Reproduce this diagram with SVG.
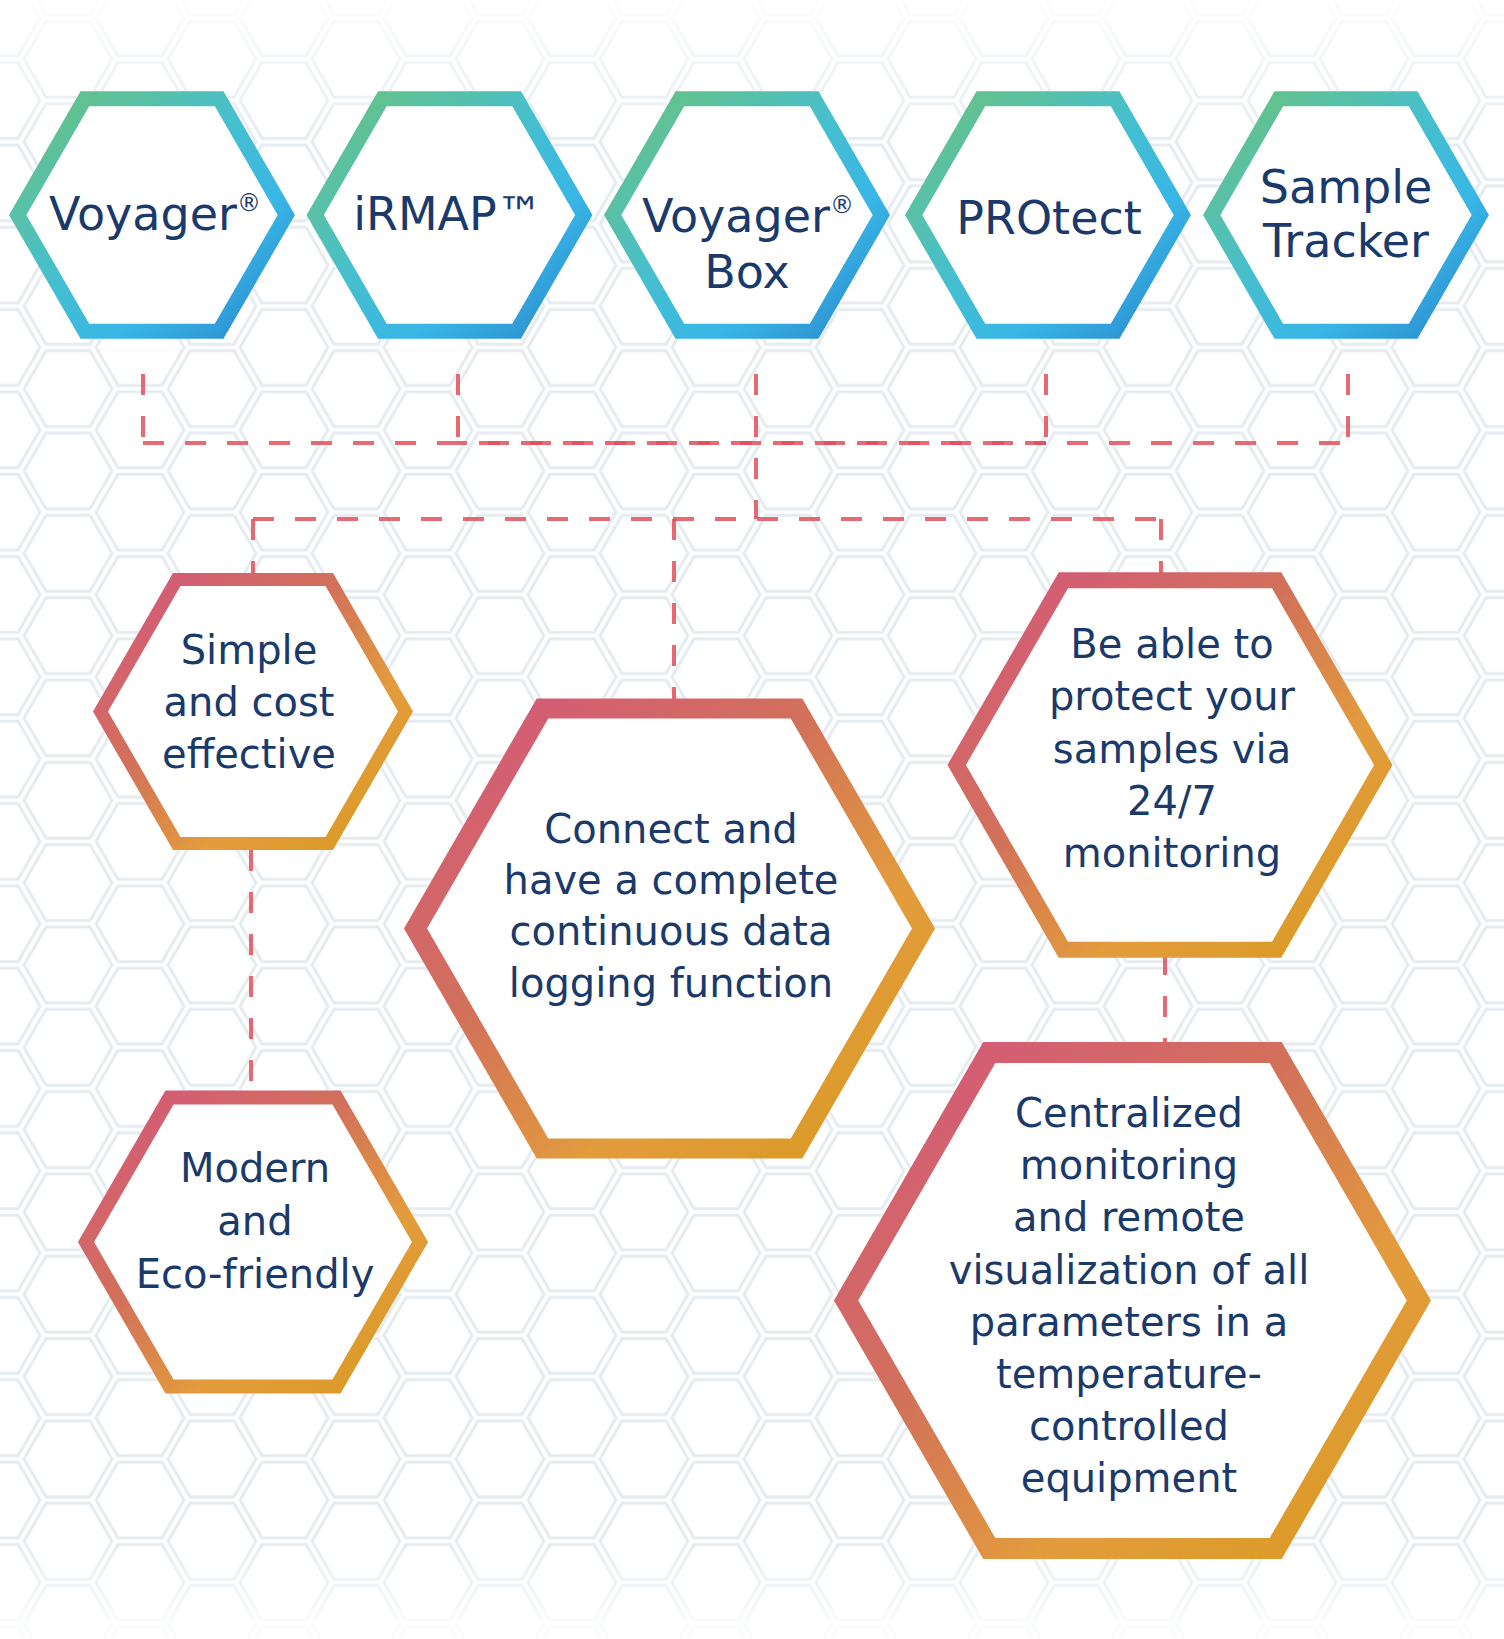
<svg xmlns="http://www.w3.org/2000/svg" xmlns:xlink="http://www.w3.org/1999/xlink" width="1504" height="1639" viewBox="0 0 1504 1639">
  <style>
    .lbl { font-family: 'DejaVu Sans', 'Open Sans', 'Noto Sans', sans-serif; fill: #1b3a6c; text-anchor: middle; }
    .top { font-size: 46px; }
    .bot { font-size: 40px; }
    .hexB { fill: #ffffff; stroke: url(#gBlue); stroke-width: 15; stroke-linejoin: miter; }
    .hexW { fill: #ffffff; stroke: url(#gWarm); stroke-linejoin: miter; }
    .conn { fill: none; stroke: #e0505c; stroke-opacity: 0.85; stroke-width: 4; stroke-dasharray: 21 21; }
    .bgHex { fill: none; stroke: #e5ecf1; stroke-width: 3; }
  </style>
  <defs>
    <linearGradient id="gBlue" x1="0" y1="0" x2="1" y2="1">
      <stop offset="0" stop-color="#6cc27a"/>
      <stop offset="0.45" stop-color="#46bfcf"/>
      <stop offset="0.7" stop-color="#38b6e6"/>
      <stop offset="1" stop-color="#2a86cc"/>
    </linearGradient>
    <linearGradient id="gWarm" x1="0" y1="0" x2="1" y2="1">
      <stop offset="0" stop-color="#d4557f"/>
      <stop offset="0.4" stop-color="#d2715a"/>
      <stop offset="0.68" stop-color="#e39c3c"/>
      <stop offset="1" stop-color="#d89a20"/>
    </linearGradient>
    <path id="bh" d="M44 0 L22 38 L-22 38 L-44 0 L-22 -38 L22 -38 Z"/>
    <pattern id="honey" patternUnits="userSpaceOnUse" x="68" y="59.3" width="144" height="82.33">
      <use xlink:href="#bh" class="bgHex" transform="translate(0 0)"/>
      <use xlink:href="#bh" class="bgHex" transform="translate(144 0)"/>
      <use xlink:href="#bh" class="bgHex" transform="translate(0 82.33)"/>
      <use xlink:href="#bh" class="bgHex" transform="translate(144 82.33)"/>
      <use xlink:href="#bh" class="bgHex" transform="translate(72 41.17)"/>
    </pattern>
    <linearGradient id="fadeTop" x1="0" y1="0" x2="0" y2="1">
      <stop offset="0" stop-color="#ffffff" stop-opacity="0.9"/>
      <stop offset="1" stop-color="#ffffff" stop-opacity="0"/>
    </linearGradient>
    <linearGradient id="fadeBot" x1="0" y1="0" x2="0" y2="1">
      <stop offset="0" stop-color="#ffffff" stop-opacity="0"/>
      <stop offset="1" stop-color="#ffffff" stop-opacity="0.9"/>
    </linearGradient>
  </defs>

  <rect x="0" y="0" width="1504" height="1639" fill="#ffffff"/>
  <rect x="0" y="0" width="1504" height="1639" fill="url(#honey)"/>
  <rect x="0" y="0" width="1504" height="140" fill="url(#fadeTop)"/>
  <rect x="0" y="1540" width="1504" height="99" fill="url(#fadeBot)"/>

  <g id="connectors">
    <path class="conn" d="M143 374 V443"/>
    <path class="conn" d="M458 374 V443"/>
    <path class="conn" d="M1046 374 V443"/>
    <path class="conn" d="M1348 374 V443"/>
    <path class="conn" d="M756 374 V519"/>
    <path class="conn" d="M143 443 H1348"/>
    <path class="conn" d="M458 443 H1046" stroke-dashoffset="12"/>
    <path class="conn" d="M253 519 H1161"/>
    <path class="conn" d="M253 519 V573"/>
    <path class="conn" d="M674 519 V700"/>
    <path class="conn" d="M1161 519 V573"/>
    <path class="conn" d="M251 850 V1092"/>
    <path class="conn" d="M1165 954 V1044"/>
  </g>

  <g id="node-voyager">
    <polygon class="hexB" points="17.7,215 84.85,98.7 219.15,98.7 286.3,215 219.15,331.3 84.85,331.3"/>
    <text class="lbl top" x="155" y="230">Voyager<tspan font-size="24" dy="-19">®</tspan></text>
  </g>
  <g id="node-irmap">
    <polygon class="hexB" points="315.2,215 382.35,98.7 516.65,98.7 583.8,215 516.65,331.3 382.35,331.3"/>
    <text class="lbl top" x="448" y="230">iRMAP™</text>
  </g>
  <g id="node-voyager-box">
    <polygon class="hexB" points="612.7,215 679.85,98.7 814.15,98.7 881.3,215 814.15,331.3 679.85,331.3"/>
    <text class="lbl top" x="748" y="232">Voyager<tspan font-size="24" dy="-19">®</tspan></text>
    <text class="lbl top" x="747" y="288">Box</text>
  </g>
  <g id="node-protect">
    <polygon class="hexB" points="913.7,215 980.85,98.7 1115.15,98.7 1182.3,215 1115.15,331.3 980.85,331.3"/>
    <text class="lbl top" x="1049" y="234">PROtect</text>
  </g>
  <g id="node-sample-tracker">
    <polygon class="hexB" points="1211.7,215 1278.85,98.7 1413.15,98.7 1480.3,215 1413.15,331.3 1278.85,331.3"/>
    <text class="lbl top" x="1346" y="203">Sample</text>
    <text class="lbl top" x="1346" y="257">Tracker</text>
  </g>

  <g id="node-simple">
    <polygon class="hexW" stroke-width="13" points="100.5,711.5 176.75,579.4 329.25,579.4 405.5,711.5 329.25,843.6 176.75,843.6"/>
    <text class="lbl bot" x="249" y="664">Simple</text>
    <text class="lbl bot" x="249" y="716">and cost</text>
    <text class="lbl bot" x="249" y="768">effective</text>
  </g>
  <g id="node-modern">
    <polygon class="hexW" stroke-width="14" points="86,1242 169.5,1097.4 336.5,1097.4 420,1242 336.5,1386.6 169.5,1386.6"/>
    <text class="lbl bot" x="255" y="1182">Modern</text>
    <text class="lbl bot" x="255" y="1235">and</text>
    <text class="lbl bot" x="255" y="1288">Eco-friendly</text>
  </g>
  <g id="node-connect">
    <polygon class="hexW" stroke-width="20" points="415.5,928.5 542.5,708.5 796.5,708.5 923.5,928.5 796.5,1148.5 542.5,1148.5"/>
    <text class="lbl bot" x="671" y="843">Connect and</text>
    <text class="lbl bot" x="671" y="894">have a complete</text>
    <text class="lbl bot" x="671" y="945">continuous data</text>
    <text class="lbl bot" x="671" y="997">logging function</text>
  </g>
  <g id="node-protect-samples">
    <polygon class="hexW" stroke-width="16" points="956.7,765 1063.35,580.3 1276.65,580.3 1383.3,765 1276.65,949.7 1063.35,949.7"/>
    <text class="lbl bot" x="1172" y="658">Be able to</text>
    <text class="lbl bot" x="1172" y="710">protect your</text>
    <text class="lbl bot" x="1172" y="763">samples via</text>
    <text class="lbl bot" x="1172" y="815">24/7</text>
    <text class="lbl bot" x="1172" y="867">monitoring</text>
  </g>
  <g id="node-centralized">
    <polygon class="hexW" stroke-width="21" points="846.1,1300.5 989.3,1052.5 1275.7,1052.5 1418.9,1300.5 1275.7,1548.5 989.3,1548.5"/>
    <text class="lbl bot" x="1129" y="1127">Centralized</text>
    <text class="lbl bot" x="1129" y="1179">monitoring</text>
    <text class="lbl bot" x="1129" y="1231">and remote</text>
    <text class="lbl bot" x="1129" y="1284">visualization of all</text>
    <text class="lbl bot" x="1129" y="1336">parameters in a</text>
    <text class="lbl bot" x="1129" y="1388">temperature-</text>
    <text class="lbl bot" x="1129" y="1440">controlled</text>
    <text class="lbl bot" x="1129" y="1492">equipment</text>
  </g>
</svg>
